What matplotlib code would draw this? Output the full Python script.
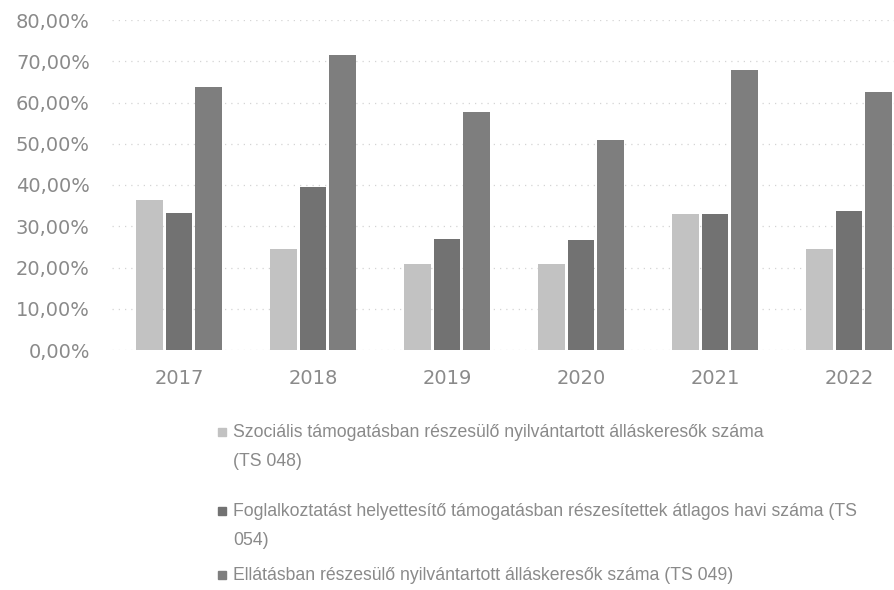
import numpy as np
import matplotlib.pyplot as plt
from matplotlib.patches import Rectangle

years = ['2017', '2018', '2019', '2020', '2021', '2022']
ts048 = [36.4, 24.6, 20.8, 20.8, 32.9, 24.6]
ts054 = [33.1, 39.6, 26.9, 26.7, 33.0, 33.8]
ts049 = [63.7, 71.4, 57.6, 50.9, 67.9, 62.6]
series_labels = [
    'Szociális támogatásban részesülő nyilvántartott álláskeresők száma\n(TS 048)',
    'Foglalkoztatást helyettesítő támogatásban részesítettek átlagos havi száma (TS\n054)',
    'Ellátásban részesülő nyilvántartott álláskeresők száma (TS 049)',
]
colors = ['#c2c2c2', '#727272', '#7e7e7e']
yticks = [0, 10, 20, 30, 40, 50, 60, 70, 80]

tick_color = '#8a8a8a'
plt.rcParams['font.family'] = ['DejaVu Sans']

fig = plt.figure(figsize=(8.94, 5.90), dpi=100)
# plot area runs past the right edge, as in the (cropped) original
ax = fig.add_axes([112 / 894, 1 - 350 / 590, 804 / 894, 330 / 590])

x = np.arange(len(years))
w = 0.2
for i, (vals, c) in enumerate(zip([ts048, ts054, ts049], colors)):
    ax.bar(x + (i - 1) * 0.222, vals, width=w, color=c, zorder=3)

ax.set_xlim(-0.5, len(years) - 0.5)
ax.set_ylim(0, 80)
ax.set_yticks(yticks)
ax.set_yticklabels(['{:.2f}%'.format(v).replace('.', ',') for v in yticks])
ax.set_xticks(x)
ax.set_xticklabels(years)
ax.tick_params(axis='both', length=0, colors=tick_color, labelsize=14)
ax.tick_params(axis='y', pad=16)
ax.tick_params(axis='x', pad=14)
for s in ax.spines.values():
    s.set_visible(False)
ax.yaxis.grid(True, color='#d4d4d4', linestyle=(0, (1, 4)), linewidth=0.9, zorder=0)
ax.set_axisbelow(True)

# legend, one entry under the other below the chart
tops = [424, 503, 567]
for lab, c, t in zip(series_labels, colors, tops):
    fig.text(233 / 894, 1 - t / 590, lab, ha='left', va='top', fontsize=12.7,
             family=['Liberation Sans', 'DejaVu Sans'],
             color=tick_color, linespacing=1.9)
    fig.add_artist(Rectangle((218 / 894, 1 - (t + 12) / 590), 8 / 894, 8 / 590,
                             transform=fig.transFigure, color=c))

fig.savefig('out.png', dpi=100)
